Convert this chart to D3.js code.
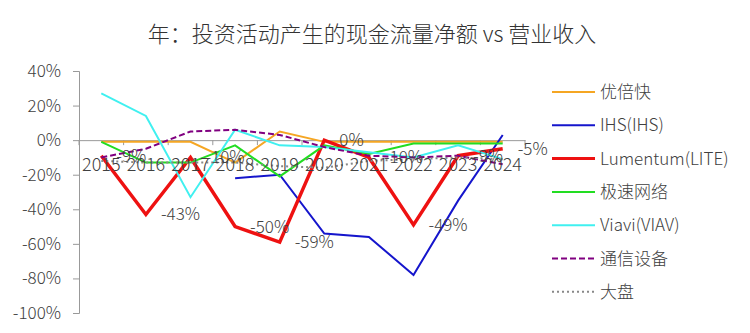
<!DOCTYPE html>
<html><head><meta charset="utf-8">
<script src="https://cdn.jsdelivr.net/npm/d3@7"></script>
<style>
body{margin:0;background:#fff;}
text{font-family:"Noto Sans CJK SC","Noto Sans",sans-serif;fill:#404040;font-weight:300;}
</style></head>
<body><svg id="c" width="750" height="333"></svg>
<script>
const years = ["2015","2016","2017","2018","2019","2020","2021","2022","2023","2024"];
const yTicks = [40,20,0,-20,-40,-60,-80,-100];
const seriesNames = ["优倍快","IHS(IHS)","Lumentum(LITE)","极速网络","Viavi(VIAV)","通信设备","大盘"];
const youbeikuai = [-1,-1,-1,-13,5,-1,-1,-1,-1,-1];
const ihs = [null,null,null,-22,-20,-54,-56,-78,-35,3];
const lumentum = [-9,-43,-10,-50,-59,0,-10,-49,-9,-5];
const jisu = [-1,-13,-13,-3,-21,-3,-8,-2,-2,-2];
const viavi = [27,14,-33,6,-3,-4,-7,-10,-3,-11];
const tongxin = [-10,-5,5,6,3,-4,-9,-10,-9,-14];
const dapan = [-12,-13,-13,-13,-15,-16,-12,-11,-10,-11];
const lumentumLabels = ["-9%","-43%","-10%","-50%","-59%","0%","-10%","-49%","-9%","-5%"];

const colors = ["#F5A623","#1515CC","#EE1111","#22DD22","#40F0F0","#800080","#888888"];
const widths = [2,2,3.5,2,2,2,2];
const dashes = [null,null,null,null,null,"6,3","2,3"];
const allData = [youbeikuai,ihs,lumentum,jisu,viavi,tongxin,dapan];

const svg = d3.select("#c");
const x = d3.scaleBand().domain(years).range([79,525]);
const y = d3.scaleLinear().domain([-100,40]).range([313,71]);

svg.append("text").attr("x",372).attr("y",42).attr("text-anchor","middle")
  .style("font-size","22px").style("fill","#333").text("年：投资活动产生的现金流量净额 vs 营业收入");

// y axis
const ya = svg.append("g").attr("transform","translate(79,0)")
  .call(d3.axisLeft(y).tickValues(yTicks).tickSize(6).tickPadding(12).tickFormat(d=>d+"%"));
ya.select(".domain").attr("stroke","#999");
ya.selectAll(".tick line").attr("stroke","#999");
ya.selectAll("text").style("font-size","17px").style("fill","#404040").attr("font-family",null);

// x axis at 0
const xa = svg.append("g").attr("transform",`translate(0,${y(0)})`)
  .call(d3.axisBottom(x).tickSize(0).tickPadding(0));
xa.select(".domain").attr("stroke","#999");
xa.selectAll(".tick text").remove();
const bounds = years.map(d=>x(d)).concat([x.range()[1]]);
svg.append("g").selectAll("line").data(bounds).join("line")
  .attr("x1",d=>d).attr("x2",d=>d).attr("y1",y(0)).attr("y2",y(0)+5).attr("stroke","#999");

// lines
const line = d3.line().defined(d=>d.v!==null).x(d=>x(d.k)+x.bandwidth()/2).y(d=>y(d.v));
allData.forEach((arr,i)=>{
  svg.append("path").datum(years.map((k,j)=>({k,v:arr[j]})))
    .attr("d",line).attr("fill","none").attr("stroke",colors[i])
    .attr("stroke-width",widths[i]).attr("stroke-dasharray",dashes[i]);
});

// category labels
svg.append("g").selectAll("text").data(years).join("text")
  .attr("x",d=>x(d)+x.bandwidth()/2).attr("y",y(0)+31).attr("text-anchor","middle")
  .style("font-size","18px").text(d=>d);

// data labels for Lumentum
svg.append("g").selectAll("text").data(years).join("text")
  .attr("x",d=>x(d)+x.bandwidth()/2+15).attr("y",(d,j)=>y(lumentum[j])+6)
  .style("font-size","17px").text((d,j)=>lumentumLabels[j]);

// legend
const lg = svg.append("g");
seriesNames.forEach((n,i)=>{
  const ly = 92 + i*33.3;
  lg.append("line").attr("x1",552).attr("x2",595).attr("y1",ly).attr("y2",ly)
    .attr("stroke",colors[i]).attr("stroke-width",i===2?3:2).attr("stroke-dasharray",dashes[i]);
  lg.append("text").attr("x",600).attr("y",ly+6).style("font-size","17px").text(n);
});
</script></body></html>
